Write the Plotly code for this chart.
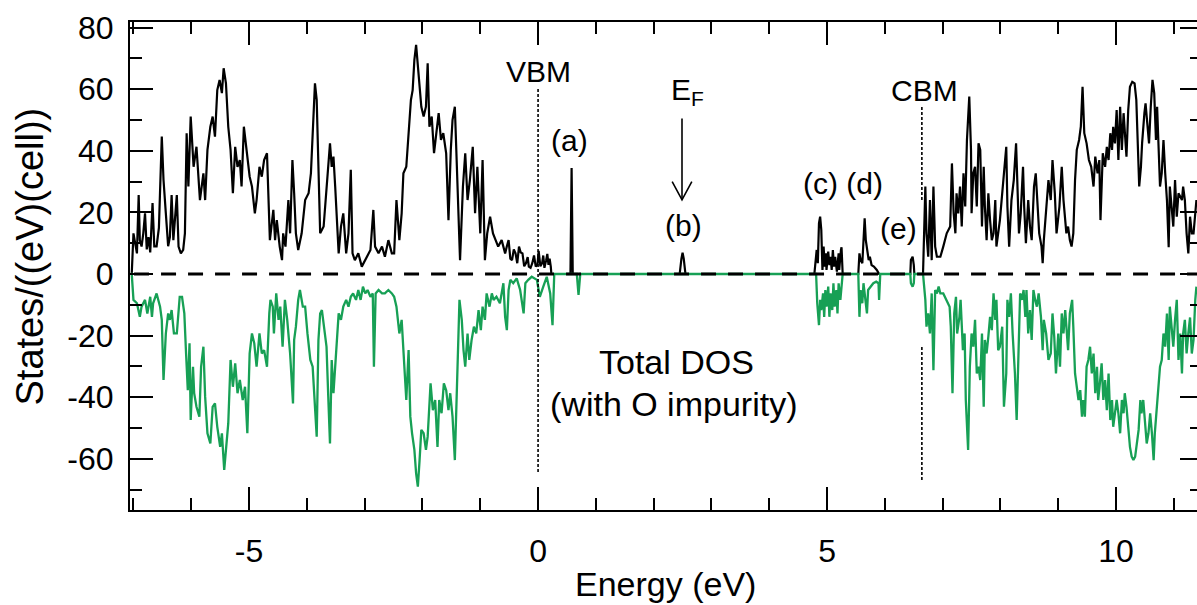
import plotly.graph_objects as go

# Spin-up total DOS (states/eV/cell) vs energy (eV), E = 0 at the valence band maximum
up_valence = [
    (-7.05, 0), (-7.03, 0), (-7.00, 13.2), (-6.97, 10), (-6.94, 6.7), (-6.91, 25.6), (-6.89, 11),
    (-6.86, 8.9), (-6.83, 13.2), (-6.80, 19.7), (-6.77, 8), (-6.74, 12), (-6.71, 7), (-6.67, 23),
    (-6.64, 9), (-6.60, 9), (-6.56, 15), (-6.51, 44.6), (-6.48, 30.5), (-6.44, 19.7), (-6.40, 9),
    (-6.37, 12), (-6.34, 25.6), (-6.31, 11), (-6.25, 25.6), (-6.22, 8.9), (-6.18, 6.7), (-6.14, 7.8),
    (-6.11, 13.2), (-6.08, 45.7), (-6.05, 28.4), (-6.01, 51.1), (-5.96, 34.8), (-5.91, 41.3),
    (-5.85, 24), (-5.79, 32.7), (-5.76, 24), (-5.72, 40.3), (-5.67, 47.8), (-5.63, 51.1),
    (-5.59, 44.6), (-5.55, 59.7), (-5.51, 63), (-5.47, 58.7), (-5.44, 66.8), (-5.40, 61.9),
    (-5.36, 47.8), (-5.32, 40.3), (-5.28, 26.2), (-5.24, 41.3), (-5.20, 34.8), (-5.16, 37),
    (-5.13, 28.4), (-5.09, 47.8), (-5.04, 39.2), (-4.99, 31.6), (-4.95, 28.4), (-4.90, 19.7),
    (-4.87, 24), (-4.82, 34.8), (-4.78, 31.6), (-4.74, 37), (-4.69, 39.2), (-4.67, 28.4),
    (-4.64, 11), (-4.58, 20.8), (-4.55, 11), (-4.52, 17.5), (-4.47, 8.9), (-4.43, 4.5),
    (-4.41, 13.2), (-4.37, 8.9), (-4.32, 24), (-4.29, 13.2), (-4.25, 37), (-4.22, 26.2),
    (-4.19, 13.2), (-4.15, 7.8), (-4.09, 13.2), (-4.03, 24), (-3.97, 26.2), (-3.93, 32.7),
    (-3.90, 47.8), (-3.86, 61.9), (-3.83, 56.5), (-3.80, 29.4), (-3.77, 13.2), (-3.71, 15.4),
    (-3.66, 28.4), (-3.60, 42.4), (-3.57, 34.8), (-3.54, 38.1), (-3.51, 28.4), (-3.48, 15.4),
    (-3.45, 6.7), (-3.41, 15.4), (-3.37, 19.7), (-3.32, 6.7), (-3.28, 13.2), (-3.24, 33.8),
    (-3.21, 6.7), (-3.17, 4.5), (-3.11, 6.7), (-3.05, 2.4), (-2.99, 4.5), (-2.94, 6.7),
    (-2.90, 7.8), (-2.85, 20.8), (-2.82, 8.9), (-2.76, 6.7), (-2.70, 8.9), (-2.65, 5.6),
    (-2.59, 11), (-2.53, 6.7), (-2.49, 6.7), (-2.45, 24), (-2.40, 11), (-2.36, 19.7),
    (-2.33, 32.7), (-2.28, 34.8), (-2.24, 44.6), (-2.20, 56.5), (-2.17, 59.7), (-2.14, 69.5),
    (-2.11, 74.4), (-2.08, 67.3), (-2.05, 59.7), (-2.02, 54.3), (-1.98, 51.1), (-1.94, 54.3),
    (-1.91, 68.4), (-1.88, 47.8), (-1.84, 51.1), (-1.80, 39.2), (-1.76, 45.7), (-1.72, 52.2),
    (-1.68, 43.5), (-1.64, 45.7), (-1.59, 39.2), (-1.55, 17.5), (-1.51, 40.3), (-1.48, 50),
    (-1.44, 54.3), (-1.40, 34.8), (-1.35, 4.5), (-1.30, 28.4), (-1.26, 39.2), (-1.22, 24),
    (-1.18, 30.5), (-1.13, 41.3), (-1.09, 19.7), (-1.05, 34.8), (-1.00, 13.2), (-0.96, 37),
    (-0.92, 4.5), (-0.88, 13.2), (-0.83, 18.6), (-0.78, 13.2), (-0.74, 11), (-0.69, 8.9),
    (-0.63, 11), (-0.57, 6.7), (-0.54, 9), (-0.51, 11), (-0.48, 5), (-0.45, 4.5), (-0.42, 8),
    (-0.39, 6.7), (-0.36, 3.5), (-0.33, 8.9), (-0.30, 7), (-0.27, 6.7), (-0.24, 2.5),
    (-0.21, 3.5), (-0.18, 5.5), (-0.16, 2.4), (-0.13, 2), (-0.10, 3.5), (-0.07, 6), (-0.04, 2.4),
    (-0.01, 3), (0.01, 7.5), (0.04, 2.5), (0.07, 3.5), (0.09, 6), (0.11, 2), (0.14, 4.5),
    (0.16, 6.5), (0.18, 3), (0.20, 5), (0.22, 2.4), (0.23, 0),
]

# Spin-up gap states: peaks (a)-(e)
up_gap = [
    (0.56, 0), (0.58, 34.4), (0.60, 0),
    (2.45, 0), (2.48, 5), (2.50, 6.9), (2.52, 5), (2.55, 0),
    (4.78, 0), (4.82, 7.8), (4.84, 3.5), (4.86, 16.5), (4.88, 18.6), (4.90, 14.3), (4.91, 7.8),
    (4.92, 1.3), (4.94, 8.9), (4.96, 2.4), (4.98, 6.7), (4.99, 1.3), (5.02, 7.3), (5.04, 2.9),
    (5.06, 5.6), (5.08, 1.3), (5.10, 7.8), (5.12, 2.4), (5.14, 5.6), (5.17, 0.8), (5.20, 6.7),
    (5.21, 1.3), (5.24, 7.8), (5.25, 8.7), (5.27, 0),
    (5.54, 0), (5.56, 6.7), (5.58, 4.5), (5.61, 3.5), (5.63, 12.1), (5.65, 18.1), (5.67, 11),
    (5.70, 7.8), (5.72, 4.5), (5.74, 5.6), (5.77, 2.9), (5.81, 2.4), (5.86, 1.3), (5.90, 0),
    (6.44, 0), (6.45, 4.5), (6.48, 5.6), (6.50, 3), (6.51, 0),
]

up_conduction = [
    (6.66, 0), (6.70, 28.4), (6.72, 13.2), (6.75, 5.6), (6.78, 24), (6.81, 4.5), (6.84, 28.4),
    (6.87, 8.9), (6.90, 5.6), (6.96, 5.6), (7.01, 8.9), (7.07, 13.2), (7.13, 15.4), (7.16, 35.9),
    (7.19, 19.7), (7.22, 13.2), (7.24, 26.2), (7.27, 19.7), (7.30, 28.4), (7.33, 15.4),
    (7.36, 32.7), (7.39, 21.9), (7.42, 43.5), (7.46, 57.6), (7.49, 40.3), (7.50, 19.7),
    (7.53, 32.7), (7.56, 34.8), (7.59, 21.9), (7.62, 42.4), (7.65, 40.3), (7.68, 15.4),
    (7.71, 34.8), (7.73, 21.9), (7.76, 11), (7.79, 26.2), (7.82, 17.5), (7.85, 11), (7.88, 13.2),
    (7.91, 24), (7.93, 8.9), (7.96, 13.2), (7.99, 17.5), (8.02, 24), (8.06, 32.7), (8.10, 41.3),
    (8.12, 21.9), (8.15, 8.9), (8.19, 24), (8.23, 30.5), (8.27, 42.4), (8.29, 30.5), (8.32, 13.2),
    (8.35, 19.7), (8.39, 34.8), (8.41, 21.9), (8.44, 10), (8.48, 24), (8.51, 15.4), (8.54, 11),
    (8.58, 28.4), (8.61, 32.7), (8.64, 21.9), (8.67, 13.2), (8.71, 8.9), (8.73, 3.5), (8.75, 11),
    (8.79, 19.7), (8.83, 30.5), (8.87, 24), (8.90, 37), (8.94, 26.2), (8.97, 13.2), (9.02, 21.9),
    (9.06, 34.8), (9.09, 24), (9.14, 13.2), (9.17, 15.4), (9.20, 11), (9.23, 8.9), (9.26, 13.2),
    (9.29, 30.5), (9.32, 40.3), (9.36, 43.5), (9.39, 47.8), (9.42, 60.8), (9.45, 45.7),
    (9.49, 42.4), (9.53, 37), (9.57, 34.8), (9.61, 28.4), (9.64, 38.1), (9.68, 32.7), (9.71, 37),
    (9.73, 17.5), (9.77, 39.2), (9.81, 34.8), (9.84, 41.3), (9.87, 37), (9.90, 45.7), (9.93, 40.3),
    (9.95, 47.8), (9.98, 42.4), (10.01, 53.2), (10.04, 37), (10.07, 54.3), (10.10, 40.3),
    (10.13, 52.2), (10.15, 45.7), (10.18, 38.1), (10.21, 53.2), (10.24, 60.8), (10.28, 62.4),
    (10.32, 61.9), (10.35, 56.5), (10.37, 41.3), (10.40, 28.4), (10.43, 34.8), (10.45, 42.4),
    (10.49, 52.2), (10.51, 55.4), (10.54, 48.9), (10.57, 42.4), (10.60, 54.3), (10.63, 63),
    (10.66, 58.7), (10.69, 43.5), (10.71, 54.3), (10.74, 40.3), (10.76, 28.4), (10.79, 32.7),
    (10.82, 43.5), (10.85, 32.7), (10.88, 24), (10.91, 8.7), (10.93, 28.4), (10.96, 21.9),
    (10.99, 15.4), (11.02, 30.5), (11.05, 18.6), (11.08, 26.2), (11.11, 25), (11.14, 24),
    (11.16, 28.4), (11.19, 24), (11.22, 13.2), (11.25, 6.7), (11.28, 18.6), (11.31, 13.2),
    (11.34, 13.2), (11.39, 24),
]

# Spin-down total DOS, plotted as negative values
down_valence = [
    (-7.05, 0), (-7.03, 0), (-7.00, -8.4), (-6.94, -9.5), (-6.89, -13.9), (-6.86, -10.6),
    (-6.80, -8.4), (-6.76, -12.8), (-6.71, -7.4), (-6.68, -13.9), (-6.66, -9.5), (-6.60, -6.3),
    (-6.54, -10.6), (-6.51, -14.9), (-6.48, -34.4), (-6.44, -19.3), (-6.40, -12.8), (-6.37, -14.9),
    (-6.34, -11.7), (-6.30, -19.3), (-6.25, -19.3), (-6.20, -7.4), (-6.16, -7.4), (-6.12, -12.8),
    (-6.09, -25.8), (-6.06, -37.7), (-6.03, -22.5), (-6.01, -47.4), (-5.97, -30.1), (-5.95, -38.7),
    (-5.91, -43.1), (-5.86, -46.3), (-5.83, -30.1), (-5.79, -23.6), (-5.76, -39.8), (-5.72, -51.7),
    (-5.67, -55), (-5.63, -43.1), (-5.59, -42), (-5.55, -49.6), (-5.50, -56.1), (-5.47, -51.7),
    (-5.43, -63.6), (-5.40, -56.1), (-5.36, -48.5), (-5.32, -27.9), (-5.28, -36.6), (-5.24, -29),
    (-5.20, -38.7), (-5.16, -34.4), (-5.11, -40.9), (-5.07, -36.6), (-5.03, -51.7), (-4.99, -25.8),
    (-4.95, -19.3), (-4.91, -22.5), (-4.87, -30.1), (-4.82, -19.3), (-4.78, -25.8), (-4.74, -24.7),
    (-4.69, -30.1), (-4.65, -12.8), (-4.63, -8.4), (-4.59, -10.6), (-4.57, -19.3), (-4.53, -6.3),
    (-4.49, -14.9), (-4.46, -10.6), (-4.42, -23.6), (-4.38, -8.4), (-4.34, -14.9), (-4.29, -25.8),
    (-4.24, -42), (-4.22, -21.4), (-4.19, -17.1), (-4.15, -8.4), (-4.12, -5.2), (-4.07, -10.6),
    (-4.03, -10.6), (-3.99, -19.3), (-3.94, -27.9), (-3.90, -30.1), (-3.86, -45.2), (-3.83, -52.8),
    (-3.80, -21.4), (-3.77, -12.8), (-3.74, -11.7), (-3.70, -17.1), (-3.66, -23.6), (-3.63, -39.8),
    (-3.60, -55), (-3.57, -27.9), (-3.54, -38.7), (-3.51, -30.1), (-3.48, -19.3), (-3.45, -12.8),
    (-3.41, -14.9), (-3.37, -10.6), (-3.32, -8.4), (-3.28, -10.6), (-3.24, -7.4), (-3.20, -6.3),
    (-3.15, -8.4), (-3.11, -5.2), (-3.07, -8.4), (-3.03, -4.1), (-2.99, -6.3), (-2.95, -5.2),
    (-2.90, -7.4), (-2.86, -6.3), (-2.84, -30.1), (-2.81, -6.3), (-2.76, -5.2), (-2.70, -6.3),
    (-2.65, -6.3), (-2.59, -5.2), (-2.53, -6.3), (-2.49, -7.4), (-2.45, -10.6), (-2.40, -19.3),
    (-2.36, -14.9), (-2.32, -30.1), (-2.28, -40.9), (-2.24, -24.7), (-2.21, -46.3), (-2.18, -51.7),
    (-2.14, -57.1), (-2.11, -64.7), (-2.08, -69), (-2.05, -60.4), (-2.02, -50.6), (-1.98, -51.7),
    (-1.94, -57.1), (-1.91, -52.8), (-1.88, -39.8), (-1.86, -35.5), (-1.82, -44.2), (-1.78, -40.9),
    (-1.74, -56.1), (-1.71, -40.9), (-1.67, -45.2), (-1.63, -35.5), (-1.59, -37.7), (-1.55, -44.2),
    (-1.52, -38.7), (-1.48, -46.3), (-1.44, -60.4), (-1.41, -40.9), (-1.36, -8.4), (-1.32, -14.9),
    (-1.29, -24.7), (-1.26, -30.1), (-1.22, -19.3), (-1.19, -27.9), (-1.15, -21.4), (-1.11, -17.1),
    (-1.07, -19.3), (-1.03, -11.7), (-0.99, -18.2), (-0.96, -10.6), (-0.92, -14.9), (-0.89, -6.3),
    (-0.84, -10.6), (-0.80, -6.3), (-0.77, -8.4), (-0.72, -7.4), (-0.66, -9.5), (-0.60, -3),
    (-0.57, -13.9), (-0.54, -18.2), (-0.51, -5.2), (-0.48, -1.9), (-0.43, -3), (-0.37, -1.4),
    (-0.31, -5.2), (-0.25, -12.8), (-0.22, -3), (-0.17, -1.9), (-0.11, -0.9), (-0.02, -1.9),
    (0.03, -7.4), (0.09, -4.1), (0.15, -0.9), (0.21, -6.3), (0.25, -16.6), (0.28, 0),
]

down_gap = [
    (0.67, 0), (0.70, -6.8), (0.73, 0),
    (4.81, 0), (4.83, -9.5), (4.86, -16.6), (4.88, -8.4), (4.90, -11.7), (4.93, -6.3), (4.95, -13.9),
    (4.97, -5.2), (4.99, -10.6), (5.02, -4.1), (5.04, -13.9), (5.06, -6.3), (5.09, -11.7),
    (5.11, -3), (5.13, -10.6), (5.16, -5.2), (5.18, -12.8), (5.20, -3), (5.23, -8.4), (5.25, -3),
    (5.27, 0),
    (5.54, 0), (5.56, -13.9), (5.58, -5.2), (5.61, -9.5), (5.63, -3), (5.66, -7.4), (5.69, -12.8),
    (5.71, -5.2), (5.76, -4.1), (5.80, -3), (5.85, -2.5), (5.89, -3), (5.90, -8.4), (5.92, 0),
    (6.44, 0), (6.45, -3), (6.48, -4.1), (6.50, -3), (6.51, 0),
]

down_conduction = [
    (6.66, 0), (6.70, -8.4), (6.72, -17.1), (6.75, -12.8), (6.78, -19.3), (6.81, -6.3),
    (6.84, -31.2), (6.87, -5.2), (6.90, -6.3), (6.93, -4.1), (6.96, -6.3), (7.01, -6.3),
    (7.07, -8.4), (7.12, -10.6), (7.14, -17.1), (7.17, -38.7), (7.20, -12.8), (7.23, -7.4),
    (7.25, -19.3), (7.29, -13.9), (7.31, -8.4), (7.35, -24.7), (7.38, -19.3), (7.40, -40.9),
    (7.44, -57.1), (7.47, -30.1), (7.50, -19.3), (7.53, -23.6), (7.56, -14.9), (7.59, -32.3),
    (7.62, -30.1), (7.65, -34.4), (7.68, -19.3), (7.71, -43.1), (7.73, -21.4), (7.76, -25.8),
    (7.79, -20.3), (7.82, -13.9), (7.85, -18.2), (7.88, -6.3), (7.91, -14.9), (7.93, -8.4),
    (7.96, -24.7), (7.99, -23.6), (8.03, -17.1), (8.06, -43.1), (8.10, -32.3), (8.12, -8.4),
    (8.15, -13.9), (8.18, -6.3), (8.21, -19.3), (8.25, -32.3), (8.28, -47.4), (8.31, -25.8),
    (8.34, -6.3), (8.37, -8.4), (8.40, -5.2), (8.43, -13.9), (8.45, -5.2), (8.48, -19.3),
    (8.51, -11.7), (8.54, -21.4), (8.57, -5.2), (8.60, -8.4), (8.63, -10.6), (8.66, -6.3),
    (8.70, -13.9), (8.73, -24.7), (8.75, -14.9), (8.79, -19.3), (8.83, -27.9), (8.87, -25.8),
    (8.90, -12.8), (8.93, -20.3), (8.96, -32.3), (9.00, -19.3), (9.03, -30.1), (9.06, -12.8),
    (9.09, -19.3), (9.12, -11.7), (9.15, -18.2), (9.17, -24.7), (9.20, -12.8), (9.24, -8.4),
    (9.26, -17.1), (9.29, -32.3), (9.32, -36.6), (9.35, -40.9), (9.38, -37.7), (9.41, -46.3),
    (9.43, -40.9), (9.46, -46.3), (9.49, -30.1), (9.52, -27.9), (9.55, -23.6), (9.58, -32.3),
    (9.61, -25.8), (9.64, -38.7), (9.67, -30.1), (9.69, -40.9), (9.72, -35.5), (9.75, -29),
    (9.78, -40.9), (9.81, -34.4), (9.84, -44.2), (9.87, -32.3), (9.90, -47.4), (9.93, -40.9),
    (9.95, -49.6), (9.98, -44.2), (10.01, -40.9), (10.04, -45.2), (10.07, -51.7), (10.10, -40.9),
    (10.13, -45.2), (10.15, -38.7), (10.18, -43.1), (10.21, -49.6), (10.24, -56.1), (10.27, -59.3),
    (10.30, -60.4), (10.33, -59.3), (10.36, -55), (10.39, -50.6), (10.42, -40.9), (10.44, -45.2),
    (10.47, -40.9), (10.50, -47.4), (10.53, -55), (10.56, -51.7), (10.59, -45.2), (10.62, -51.7),
    (10.65, -60.4), (10.67, -51.7), (10.70, -45.2), (10.73, -38.7), (10.76, -30.1), (10.79, -27.9),
    (10.82, -19.3), (10.85, -23.6), (10.88, -12.8), (10.91, -27.9), (10.93, -10.6), (10.96, -17.1),
    (10.99, -23.6), (11.02, -14.9), (11.05, -8.4), (11.08, -27.9), (11.11, -19.3), (11.14, -32.3),
    (11.16, -19.3), (11.19, -14.9), (11.22, -25.8), (11.25, -19.3), (11.28, -14.1), (11.31, -25.8),
    (11.34, -21.4), (11.37, -8.4), (11.39, -4.1),
]

# Band edges and Fermi level (eV)
vbm_energy = 0.0
cbm_energy = 6.64
fermi_energy = 2.49

# Text labels: (text, energy, dos, font size)
labels = [
    ("VBM", 0.0, 65.6, 30),
    ("(a)", 0.55, 43.2, 30),
    ("E<sub>F</sub>", 2.59, 59.1, 30),
    ("(b)", 2.51, 15.9, 30),
    ("(c) (d)", 5.28, 29.5, 30),
    ("(e)", 6.23, 14.9, 30),
    ("CBM", 6.68, 59.7, 30),
    ("Total DOS", 2.39, -28.6, 34),
    ("(with O impurity)", 2.35, -42.2, 34),
]

x_ticks = [-5, 0, 5, 10]
x_tick_text = ["-5", "0", "5", "10"]
y_ticks = [-60, -40, -20, 0, 20, 40, 60, 80]
y_tick_text = ["-60", "-40", "-20", "0", "20", "40", "60", "80"]

X_RANGE = [-7.06, 11.40]
Y_RANGE = [-76.6, 81.8]
GREEN = "#17a055"
FONT = "Liberation Sans, Arial, sans-serif"


def split(points):
    return [p[0] for p in points], [p[1] for p in points]


e_up, dos_up = split(up_valence + up_gap + up_conduction)
e_dn, dos_dn = split(down_valence + down_gap + down_conduction)

fig = go.Figure()
fig.add_trace(go.Scatter(x=e_up, y=dos_up, mode="lines",
                         line=dict(color="black", width=2.2), showlegend=False))
fig.add_trace(go.Scatter(x=e_dn, y=dos_dn, mode="lines",
                         line=dict(color=GREEN, width=2.3), showlegend=False))
# empty trace so the right-hand tick axis is drawn
fig.add_trace(go.Scatter(x=[], y=[], yaxis="y2", showlegend=False))

tick_common = dict(ticks="inside", tickcolor="black", tickwidth=1.6,
                   showgrid=False, zeroline=False)

fig.update_layout(
    width=1197, height=605,
    margin=dict(l=130, r=0, t=22, b=95),
    paper_bgcolor="white", plot_bgcolor="white",
    font=dict(family=FONT, color="black"),
    xaxis=dict(range=X_RANGE, tickvals=x_ticks, ticktext=x_tick_text, ticklen=23,
               showline=True, linecolor="black", linewidth=2, mirror="ticks",
               tickfont=dict(size=32), ticklabelstandoff=12,
               minor=dict(ticks="inside", dtick=1, tick0=0, ticklen=12,
                          tickcolor="black", tickwidth=1.5),
               **tick_common),
    yaxis=dict(range=Y_RANGE, tickvals=y_ticks, ticktext=y_tick_text, ticklen=23,
               showline=True, linecolor="black", linewidth=2, mirror=False,
               tickfont=dict(size=32), ticklabelstandoff=8,
               minor=dict(ticks="inside", dtick=10, tick0=0, ticklen=12,
                          tickcolor="black", tickwidth=1.5),
               **tick_common),
    yaxis2=dict(range=Y_RANGE, overlaying="y", side="right", tickvals=y_ticks,
                ticklen=17, showticklabels=False, showline=False,
                minor=dict(ticks="inside", dtick=10, tick0=0, ticklen=7,
                           tickcolor="black", tickwidth=1.5),
                **tick_common),
)

# zero line, band-edge markers
fig.add_shape(type="line", x0=-6.99, x1=X_RANGE[1], y0=0, y1=0, layer="above",
              line=dict(color="black", width=3, dash="15px,12px"))
fig.add_shape(type="line", x0=vbm_energy, x1=vbm_energy, y0=-64.3, y1=60.4, layer="above",
              line=dict(color="black", width=1.6, dash="3px,2px"))
for y0, y1 in [(24, 54.2), (-66.9, -23.7)]:
    fig.add_shape(type="line", x0=cbm_energy, x1=cbm_energy, y0=y0, y1=y1, layer="above",
                  line=dict(color="black", width=1.6, dash="3px,2px"))

# Fermi-level arrow
fig.add_shape(type="line", x0=fermi_energy, x1=fermi_energy, y0=50.5, y1=24.2,
              line=dict(color="black", width=1.6))
fig.add_shape(type="path",
              path=f"M {fermi_energy - 0.17},30 L {fermi_energy},24.1 L {fermi_energy + 0.17},30",
              line=dict(color="black", width=1.6))

for text, ex, dy, size in labels:
    fig.add_annotation(x=ex, y=dy, text=text, showarrow=False,
                       xanchor="center", yanchor="middle",
                       font=dict(size=size, family=FONT, color="black"))

fig.add_annotation(xref="paper", yref="paper", x=0.502, y=-0.152, text="Energy (eV)",
                   showarrow=False, xanchor="center", yanchor="middle",
                   font=dict(size=34, family=FONT, color="black"))
fig.add_annotation(xref="paper", yref="paper", x=-0.0935, y=0.52,
                   text="States/((eV)(cell))", textangle=-90,
                   showarrow=False, xanchor="center", yanchor="middle",
                   font=dict(size=38, family=FONT, color="black"))

fig.write_html("out.html")
